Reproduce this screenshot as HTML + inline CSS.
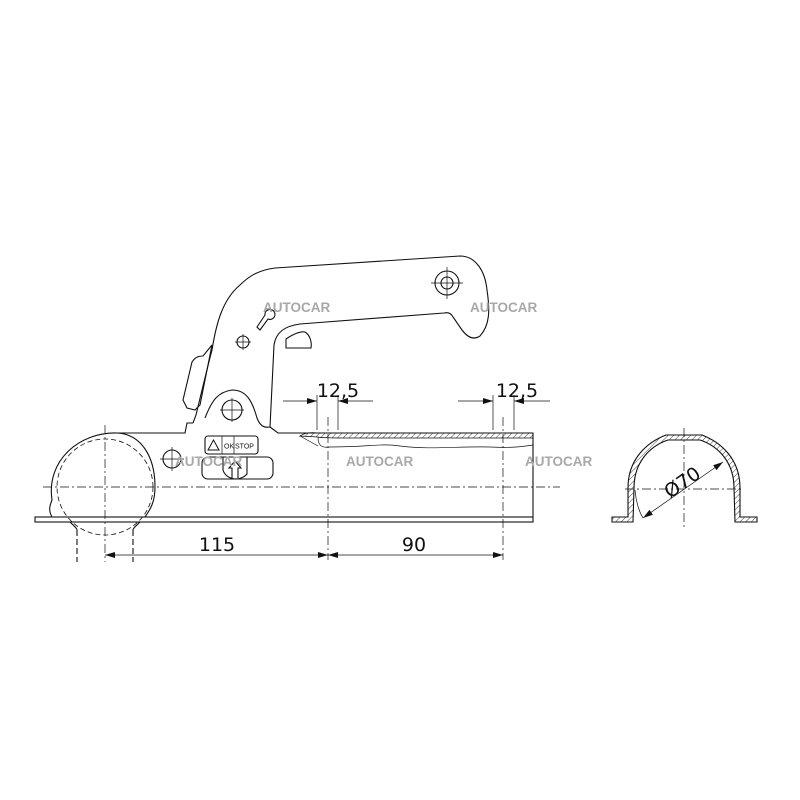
<!DOCTYPE html>
<html><head><meta charset="utf-8"><style>
html,body{margin:0;padding:0;background:#fff}
svg{display:block}
.l{fill:none;stroke:#111;stroke-width:1.1}
.t{fill:none;stroke:#111;stroke-width:0.7}
.cl{fill:none;stroke:#111;stroke-width:0.7;stroke-dasharray:9 3 2 3}
.dm{fill:none;stroke:#111;stroke-width:0.7}
.wm{font-family:"Liberation Sans",sans-serif;font-weight:bold;font-size:13.5px;fill:#a8a8a8}
.dt{font-family:"DejaVu Sans","Liberation Sans",sans-serif;font-size:19px;fill:#111}
</style></head><body>
<svg width="800" height="800" viewBox="0 0 800 800" xmlns="http://www.w3.org/2000/svg">
<defs>
<marker id="a" viewBox="0 0 10 6" refX="10" refY="3" markerWidth="10" markerHeight="6" orient="auto-start-reverse" markerUnits="userSpaceOnUse"><path d="M0,0 L10,3 L0,6 z" fill="#111"/></marker>
<pattern id="h" width="4" height="4" patternUnits="userSpaceOnUse" patternTransform="rotate(45)"><line x1="0" y1="0" x2="0" y2="4" stroke="#111" stroke-width="0.8"/></pattern>
</defs>

<rect x="35" y="517" width="498" height="5" class="l"/>
<path class="l" d="M117,433 L185,433 L187,423 L193,423 M205,418 C212,400 218,392 232,390 C246,390 252,400 257,418 C260,426 264,428 270,427 M270,427 L278,433 L533,433 L533,517"/>
<path class="l" d="M52,517 C48,510 50,505 52,500 C46,460 80,432 117,433 C140,434 155,455 155,487 C155,505 148,512 145,517"/>
<circle cx="105" cy="487" r="48" fill="none" stroke="#111" stroke-width="0.8" stroke-dasharray="5 3"/>
<path class="l" d="M70,522 C74,526 77,528 77,530 M140,522 C136,526 133,528 133,530"/>
<path class="l" d="M77,530 L77,562 M133,530 L133,562" stroke-dasharray="6 3"/>
<path class="l" d="M193,423 L196,415 C202,390 208,365 212,350 C216,325 222,300 240,285 C250,275 260,270 275,268 L460,256 C475,256 485,270 487,290 C490,310 490,325 480,336 C474,340 468,338 462,330 L453,317 C451,313 448,312 444,313 L300,324 C285,326 276,332 274,345 L270,427"/>
<path class="l" d="M183,400 L192,362 C196,356 200,356 203,356 L212,345 L200,405 L195,410 L187,408 Z"/>
<path class="l" d="M286,339 C292,335 300,331 305,332 C310,335 312,342 311,348 L286,348 Z"/>
<circle cx="447" cy="283" r="12" class="l"/><circle cx="447" cy="283" r="6" class="l"/>
<path class="t" d="M431,283 L463,283 M447,267 L447,299"/>
<circle cx="243" cy="342" r="6" class="l"/><path class="t" d="M235,342 L251,342 M243,334 L243,350"/>
<path class="l" d="M265,315 a5,5 0 1,1 3,4 L260,330 L257,327 Z"/>
<circle cx="232" cy="410" r="10" class="l"/><path class="t" d="M220,410 L244,410 M232,398 L232,422"/>
<circle cx="172" cy="459" r="9" class="l"/><path class="t" d="M160,459 L184,459 M172,447 L172,471"/>
<rect x="205" y="436" width="53" height="18" rx="3" class="l"/>
<path class="t" d="M222,436 L222,454 M234,436 L234,454"/>
<path d="M208,450 L213.5,440 L219,450 Z" fill="none" stroke="#111" stroke-width="1"/>
<text x="224" y="448.5" font-family="Liberation Sans,sans-serif" font-size="7" fill="#111">OK</text>
<text x="235" y="448.5" font-family="Liberation Sans,sans-serif" font-size="7" fill="#111">STOP</text>
<rect x="202" y="457" width="71" height="22" rx="6" class="l"/>
<path class="l" d="M223,457 L223,470 C226,480 240,482 247,474 L247,457"/>
<path class="l" d="M232,478 L232,468 L229,468 L235,461 L241,468 L238,468 L238,478"/>
<path d="M300,436 C304,433 310,432 318,433 L533,433 L533,438 L350,438 C340,438 320,438 318,437 Z" fill="url(#h)" stroke="#111" stroke-width="0.8"/>
<path d="M318,437 C318,446 322,448 330,447 C370,447 380,443 400,446 C430,450 460,446 490,447 C510,448 520,447 533,445" class="t"/>
<path d="M300,436 L318,446" class="t"/>
<line x1="43" y1="487" x2="560" y2="487" class="cl"/>
<line x1="105" y1="425" x2="105" y2="562" class="cl"/>
<line x1="328" y1="417" x2="328" y2="560" class="cl"/>
<line x1="503" y1="417" x2="503" y2="560" class="cl"/>
<line x1="105" y1="555" x2="328" y2="555" class="dm" marker-start="url(#a)" marker-end="url(#a)"/>
<line x1="328" y1="555" x2="503" y2="555" class="dm" marker-start="url(#a)" marker-end="url(#a)"/>
<text x="217" y="551" class="dt" text-anchor="middle">115</text>
<text x="414" y="551" class="dt" text-anchor="middle">90</text>
<path class="dm" d="M317,395 L317,430 M338,395 L338,430 M493,395 L493,430 M514,395 L514,430"/>
<line x1="283" y1="401" x2="317" y2="401" class="dm" marker-end="url(#a)"/>
<line x1="373" y1="401" x2="338" y2="401" class="dm" marker-end="url(#a)"/>
<line x1="458" y1="401" x2="493" y2="401" class="dm" marker-end="url(#a)"/>
<line x1="550" y1="401" x2="514" y2="401" class="dm" marker-end="url(#a)"/>
<text x="338" y="397" class="dt" text-anchor="middle">12,5</text>
<text x="517" y="397" class="dt" text-anchor="middle">12,5</text>
<!-- cross section -->
<path d="M612,517 L628,517 L628,488 C628,458 648,442 666,435 L702,435 C720,442 740,458 740,488 L740,517 L757,517 L757,522 L735,522 L734,488 C734,462 718,446 700,440 L668,440 C650,446 634,462 634,488 L633,522 L612,522 Z" fill="url(#h)" stroke="#111" stroke-width="1.1"/>
<line x1="625" y1="489" x2="742" y2="489" class="cl"/>
<line x1="684" y1="428" x2="684" y2="530" class="cl"/>
<path d="M643,518 C638,510 636,500 635,490" class="t"/>
<line x1="643" y1="518" x2="723" y2="462" class="dm" marker-start="url(#a)" marker-end="url(#a)"/>
<text x="0" y="0" class="dt" transform="translate(670,499) rotate(-35)">Ø70</text>
<text x="263" y="312" class="wm">AUTOCAR</text>
<text x="470" y="312" class="wm">AUTOCAR</text>
<text x="175" y="466" class="wm">AUTOCAR</text>
<text x="346" y="466" class="wm">AUTOCAR</text>
<text x="525" y="466" class="wm">AUTOCAR</text>
</svg>
</body></html>
